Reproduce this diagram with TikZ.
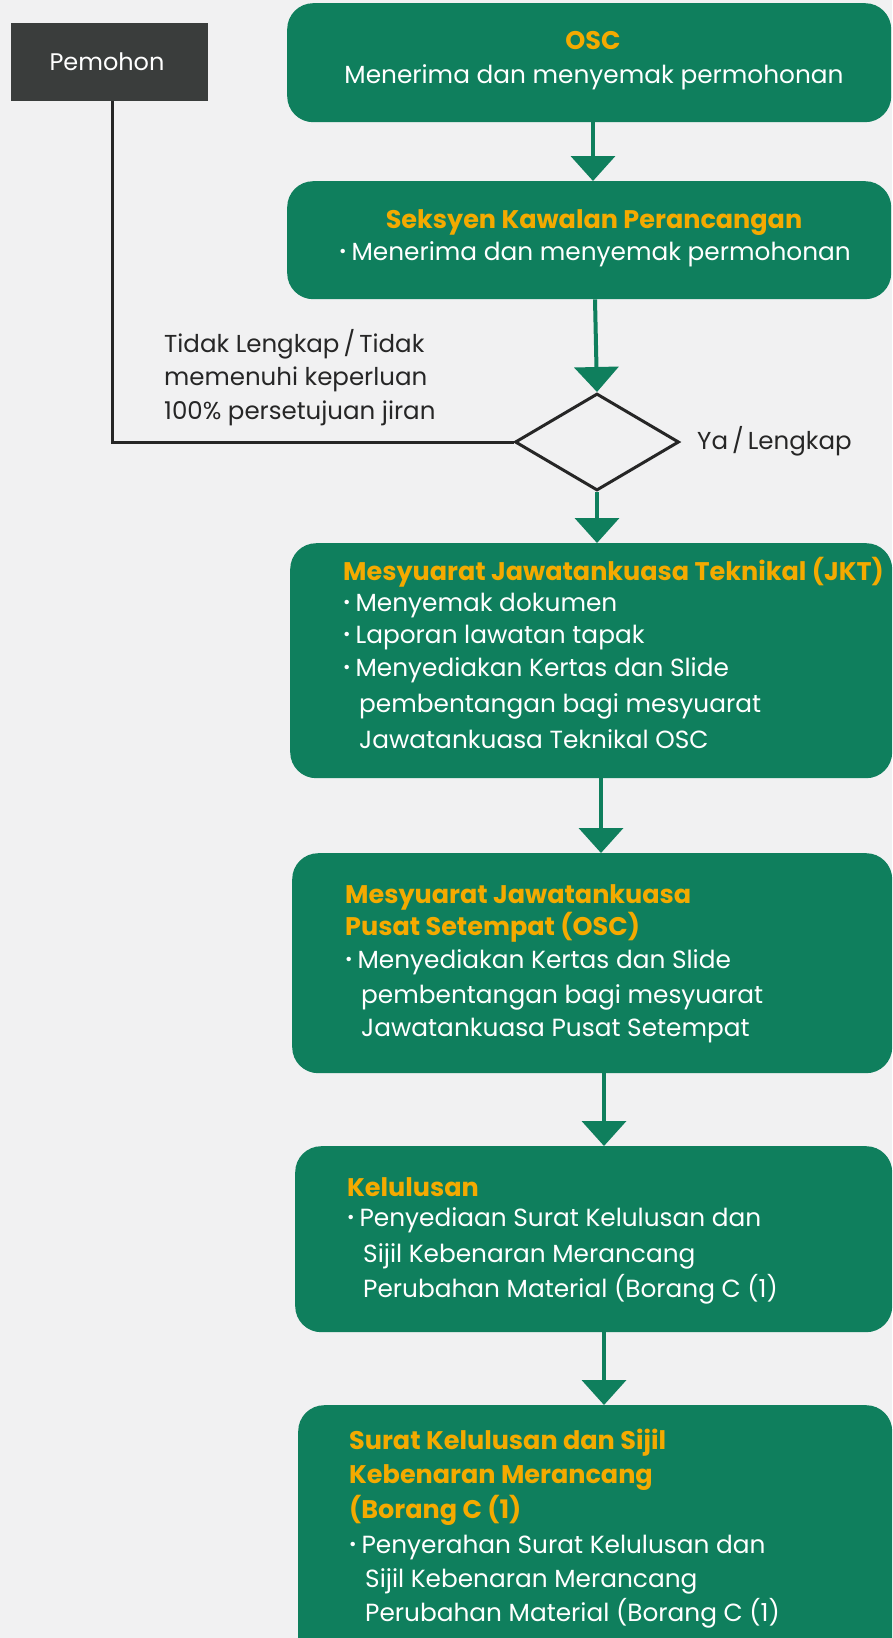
\documentclass[tikz,border=0pt]{standalone}
\usepackage{fontspec}
\setmainfont{Poppins}
\usetikzlibrary{shapes.geometric,arrows.meta}
\definecolor{grn}{HTML}{0F7F5D}
\definecolor{org}{HTML}{F4AA00}
\definecolor{pemc}{HTML}{3A3D3C}
\definecolor{bgc}{HTML}{F1F1F2}
\newcommand\bul{\raisebox{3pt}{\fontsize{18}{18}\selectfont •}\hspace{5pt}}
\begin{document}
\begin{tikzpicture}[x=1pt,y=-1pt,
  box/.style={draw=none,fill=grn,rounded corners=26pt,inner sep=0pt,anchor=north west},
  ttl/.style={font=\bfseries\fontsize{25.5}{30}\selectfont,text=org,inner sep=0pt,anchor=base west},
  bod/.style={font=\fontsize{24.8}{30}\selectfont,text=white,inner sep=0pt,anchor=base west},
  lbl/.style={font=\fontsize{24.5}{30}\selectfont,text=black!85,inner sep=0pt,anchor=base west},
  arr/.style={draw=grn,line width=4pt,-{Triangle[width=44pt,length=25pt]}},
  blk/.style={draw=black!85,line width=3pt}]
\fill[bgc] (0,0) rectangle (892,1638);
\useasboundingbox (0,0) rectangle (892,1638);
% nodes
\node[box,fill=pemc,rounded corners=0pt,minimum width=197pt,minimum height=78pt] (pem) at (11,23) {};
\node[font=\fontsize{24}{28}\selectfont,text=white,inner sep=0pt,anchor=base] (pemt) at (107,70) {Pemohon};
\node[box,minimum width=604pt,minimum height=119pt] (osc) at (287,3) {};
\node[ttl,anchor=base] (osct) at (593,49) {OSC};
\node[bod,anchor=base] (oscb) at (594,83) {Menerima dan menyemak permohonan};
\node[box,minimum width=604pt,minimum height=118pt] (sks) at (287,181) {};
\node[ttl,anchor=base] (skst) at (594,228) {Seksyen Kawalan Perancangan};
\node[bod,anchor=base] (sksb) at (595,260) {\bul Menerima dan menyemak permohonan};
\node[diamond,draw=black!85,line width=3pt,minimum width=164pt,minimum height=97pt,inner sep=0pt] (dia) at (597,442) {};
\node[lbl] (no1) at (164,352) {Tidak Lengkap\,/\,Tidak};
\node[lbl] (no2) at (164,385) {memenuhi keperluan};
\node[lbl] (no3) at (164,419) {100\% persetujuan jiran};
\node[lbl] (yes) at (697,449) {Ya\,/\,Lengkap};
\node[box,minimum width=602pt,minimum height=235pt] (jkt) at (290,543) {};
\node[ttl] (jktt) at (343,580) {Mesyuarat Jawatankuasa Teknikal (JKT)};
\node[bod] (jkt1) at (343,611) {\bul Menyemak dokumen};
\node[bod] (jkt2) at (343,643) {\bul Laporan lawatan tapak};
\node[bod] (jkt3) at (343,676) {\bul Menyediakan Kertas dan Slide};
\node[bod] (jkt4) at (359,712) {pembentangan bagi mesyuarat};
\node[bod] (jkt5) at (359,748) {Jawatankuasa Teknikal OSC};
\node[box,minimum width=600pt,minimum height=220pt] (osc2) at (292,853) {};
\node[ttl] (osc2t1) at (345,903) {Mesyuarat Jawatankuasa};
\node[ttl] (osc2t2) at (345,935) {Pusat Setempat (OSC)};
\node[bod] (osc21) at (345,968) {\bul Menyediakan Kertas dan Slide};
\node[bod] (osc22) at (361,1003) {pembentangan bagi mesyuarat};
\node[bod] (osc23) at (361,1036) {Jawatankuasa Pusat Setempat};
\node[box,minimum width=597pt,minimum height=186pt] (kel) at (295,1146) {};
\node[ttl] (kelt) at (347,1196) {Kelulusan};
\node[bod] (kel1) at (347,1226) {\bul Penyediaan Surat Kelulusan dan};
\node[bod] (kel2) at (363,1262) {Sijil Kebenaran Merancang};
\node[bod] (kel3) at (363,1297) {Perubahan Material (Borang C (1)};
\node[box,minimum width=594pt,minimum height=260pt] (lst) at (298,1405) {};
\node[ttl] (lstt1) at (349,1449) {Surat Kelulusan dan Sijil};
\node[ttl] (lstt2) at (349,1483) {Kebenaran Merancang};
\node[ttl] (lstt3) at (349,1518) {(Borang C (1)};
\node[bod] (lst1) at (349,1553) {\bul Penyerahan Surat Kelulusan dan};
\node[bod] (lst2) at (365,1587) {Sijil Kebenaran Merancang};
\node[bod] (lst3) at (365,1621) {Perubahan Material (Borang C (1)};
% columns for connectors
\coordinate (c0) at (112,0);
\coordinate (c1) at (593,0);
\coordinate (c2) at (595,0);
\coordinate (c3) at (597,0);
\coordinate (c4) at (601,0);
\coordinate (c5) at (604,0);
% connectors
\draw[arr] (osc.south -| c1) -- (sks.north -| c1);
\draw[arr] (sks.south -| c2) -- (dia.north);
\draw[arr] (dia.south) -- (jkt.north -| c3);
\draw[arr] (jkt.south -| c4) -- (osc2.north -| c4);
\draw[arr] (osc2.south -| c5) -- (kel.north -| c5);
\draw[arr] (kel.south -| c5) -- (lst.north -| c5);
\draw[blk] (pem.south -| c0) |- (dia.west);
\end{tikzpicture}
\end{document}
